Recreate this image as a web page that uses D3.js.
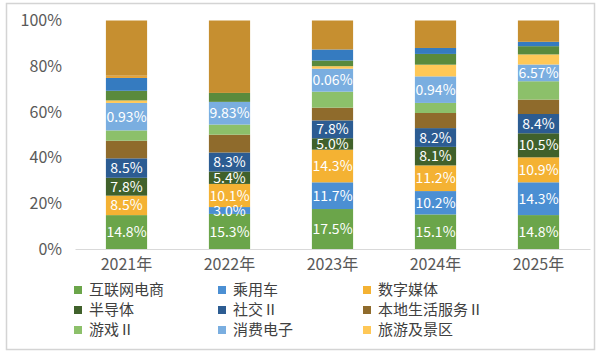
<!DOCTYPE html>
<html><head><meta charset="utf-8">
<script src="https://cdn.jsdelivr.net/npm/d3@7"></script>
<style>
html,body{margin:0;padding:0;background:#fff;}
svg{display:block;}
text{font-family:"Noto Sans CJK SC","Noto Sans",sans-serif;}
</style></head>
<body><svg id="chart" width="600" height="355"></svg>
<script>
// ---- data ----
const years = ["2021年","2022年","2023年","2024年","2025年"];
const seriesNames = ["互联网电商","乘用车","数字媒体","半导体","社交Ⅱ","本地生活服务Ⅱ","游戏Ⅱ","消费电子","旅游及景区","其他A","其他B","其他C","其他D"];
const legendNames = ["互联网电商","乘用车","数字媒体","半导体","社交Ⅱ","本地生活服务Ⅱ","游戏Ⅱ","消费电子","旅游及景区"];
const internetEcommerce = [14.8, 15.3, 17.5, 15.1, 14.8];
const passengerCars     = [0,    3.0,  11.7, 10.2, 14.3];
const digitalMedia      = [8.5,  10.1, 14.3, 11.2, 10.9];
const semiconductors    = [7.8,  5.4,  5.0,  8.1,  10.5];
const social            = [8.5,  8.3,  7.8,  8.2,  8.4];
const localServices     = [7.7,  7.8,  5.6,  6.6,  6.3];
const games             = [4.5,  4.4,  7.0,  4.4,  8.0];
const consumerElec      = [12.0, 9.9,  10.06,11.6, 7.3];
const tourism           = [1.1,  0,    1.1,  5.1,  4.4];
const otherA            = [4.2,  3.9,  2.5,  4.7,  3.6];
const otherB            = [5.6,  0,    4.8,  2.6,  1.9];
const otherC            = [1.0,  0,    0,    0,    0];
const otherD            = [24.1, 31.6, 12.7, 12.0, 9.3];
const seriesValues = [internetEcommerce, passengerCars, digitalMedia, semiconductors, social,
  localServices, games, consumerElec, tourism, otherA, otherB, otherC, otherD];
const labelTexts = {
  "互联网电商": ["14.8%","15.3%","17.5%","15.1%","14.8%"],
  "乘用车":     ["","3.0%","11.7%","10.2%","14.3%"],
  "数字媒体":   ["8.5%","10.1%","14.3%","11.2%","10.9%"],
  "半导体":     ["7.8%","5.4%","5.0%","8.1%","10.5%"],
  "社交Ⅱ":      ["8.5%","8.3%","7.8%","8.2%","8.4%"],
  "消费电子":   ["0.93%","9.83%","0.06%","0.94%","6.57%"]
};
const yTicks = [0, 0.2, 0.4, 0.6, 0.8, 1.0];
const colors = ["#6ba54a","#4b8fd3","#f4b233","#40612b","#2c5c92","#8f6b2c","#8cc06a","#7aaee0","#ffc857","#5a8a3c","#357bc0","#e5a33a","#c68f30"];

// ---- build ----
const table = years.map((y, i) => {
  const row = {year: y};
  seriesNames.forEach((s, k) => row[s] = seriesValues[k][i]);
  return row;
});
const stacked = d3.stack().keys(seriesNames).offset(d3.stackOffsetExpand)(table);

const svg = d3.select("#chart");
svg.append("rect").attr("x", 6.5).attr("y", 3.5).attr("width", 588).attr("height", 346)
  .attr("fill", "#fff").attr("stroke", "#d4d4d4").attr("stroke-width", 1.5);

const x = d3.scaleBand().domain(years).range([75, 590]).paddingInner(0.6).paddingOuter(0.3);
const y = d3.scaleLinear().domain([0, 1]).range([249, 20.5]);
const color = d3.scaleOrdinal().domain(seriesNames).range(colors);

const g = svg.append("g");
g.selectAll("g.series").data(stacked).join("g").attr("class", "series")
  .attr("fill", d => color(d.key))
  .selectAll("rect").data(d => d).join("rect")
  .attr("x", d => x(d.data.year))
  .attr("width", x.bandwidth())
  .attr("y", d => y(d[1]))
  .attr("height", d => Math.max(0, y(d[0]) - y(d[1])));

// labels
stacked.filter(s => labelTexts[s.key]).forEach(s => {
  g.append("g").selectAll("text").data(s).join("text")
    .attr("x", d => x(d.data.year) + x.bandwidth() / 2)
    .attr("y", d => (y(d[0]) + y(d[1])) / 2)
    .attr("dy", "0.36em")
    .attr("text-anchor", "middle")
    .attr("fill", "#ffffff")
    .attr("font-size", 14)
    .text((d, i) => labelTexts[s.key][i]);
});

// y axis
const yAxis = d3.axisLeft(y).tickValues(yTicks).tickFormat(d3.format(".0%")).tickSize(0).tickPadding(13);
const ya = svg.append("g").attr("transform", "translate(75,0)").call(yAxis);
ya.select(".domain").remove();
ya.selectAll("text").attr("font-size", 16).attr("fill", "#595959")
  .style("font-family", '"Noto Sans CJK SC","Noto Sans",sans-serif');

// x axis
const xAxis = d3.axisBottom(x).tickSize(0).tickPadding(10);
const xa = svg.append("g").attr("transform", "translate(0,249)").call(xAxis);
xa.select(".domain").attr("stroke", "#d9d9d9").attr("stroke-width", 1.2);
xa.selectAll("text").attr("font-size", 16).attr("fill", "#595959")
  .style("font-family", '"Noto Sans CJK SC","Noto Sans",sans-serif');

// legend
const colX = [74, 218, 363];
const rowY = [290, 310, 330];
const lg = svg.append("g");
legendNames.forEach((name, i) => {
  const cx = colX[i % 3], cy = rowY[Math.floor(i / 3)];
  lg.append("rect").attr("x", cx).attr("y", cy - 4).attr("width", 8).attr("height", 8).attr("fill", color(name));
  lg.append("text").attr("x", cx + 15).attr("y", cy).attr("dy", "0.36em")
    .attr("font-size", 15).attr("fill", "#404040").text(name);
});
</script></body></html>
